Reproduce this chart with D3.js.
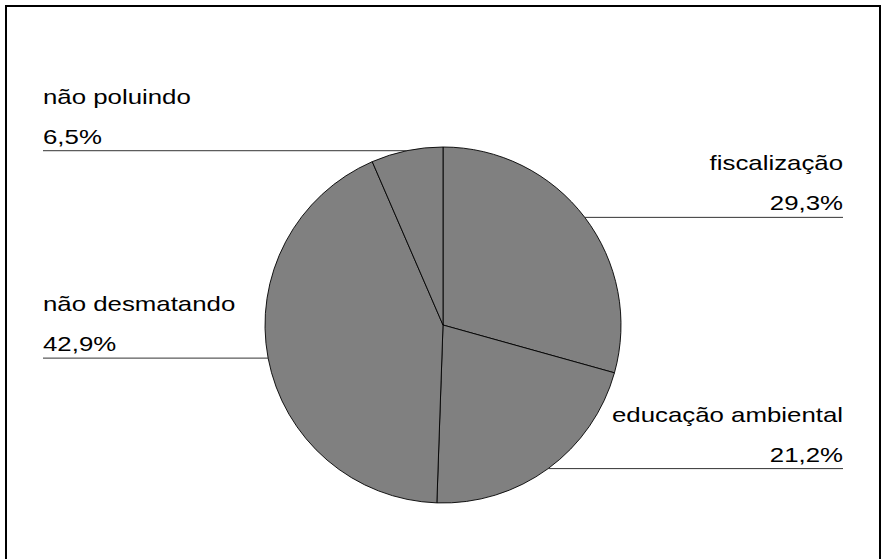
<!DOCTYPE html>
<html>
<head>
<meta charset="utf-8">
<script src="https://cdn.jsdelivr.net/npm/d3@7"></script>
<style>
  html, body { margin: 0; padding: 0; background: #fff; }
  svg { display: block; }
</style>
</head>
<body>
<svg id="chart" width="882" height="559"></svg>
<script>
const categories = ["fiscalização", "educação ambiental", "não desmatando", "não poluindo"];
const values = [29.3, 21.2, 42.9, 6.5];
const valueLabels = ["29,3%", "21,2%", "42,9%", "6,5%"];

const W = 882, H = 559;
const cx = 443, cy = 325, R = 178;
const leftX = 43, rightX = 843;
const fontSize = 20.5, stretch = 1.26;

const svg = d3.select("#chart");

// frame
svg.append("rect")
  .attr("x", 6).attr("y", 6)
  .attr("width", 874).attr("height", 570)
  .attr("fill", "none").attr("stroke", "#000").attr("stroke-width", 2);

const data = categories.map((c, i) => ({ name: c, value: values[i], label: valueLabels[i] }));

const pie = d3.pie().sort(null).value(d => d.value);
const arcs = pie(data);
const arc = d3.arc().innerRadius(0).outerRadius(R);

const g = svg.append("g").attr("transform", `translate(${cx},${cy})`);
g.selectAll("path.slice")
  .data(arcs)
  .enter().append("path")
  .attr("class", "slice")
  .attr("d", arc)
  .attr("fill", "#808080")
  .attr("stroke", "#000")
  .attr("stroke-width", 0.9);

// labels
arcs.forEach(a => {
  const mid = (a.startAngle + a.endAngle) / 2;
  const px = cx + R * Math.sin(mid);
  const py = cy - R * Math.cos(mid);
  const right = Math.sin(mid) > 0;
  const x1 = right ? px : leftX;
  const x2 = right ? rightX : px;
  svg.append("line")
    .attr("x1", x1).attr("x2", x2)
    .attr("y1", py).attr("y2", py)
    .attr("stroke", "#333").attr("stroke-width", 1);
  const tx = right ? rightX : leftX;
  const anchor = right ? "end" : "start";
  const lines = [[a.data.name, py - 47], [a.data.label, py - 7]];
  lines.forEach(([txt, y]) => {
    svg.append("text")
      .attr("transform", `translate(${tx},${y}) scale(${stretch},1)`)
      .attr("text-anchor", anchor)
      .attr("font-family", "Liberation Sans, Arial, sans-serif")
      .attr("font-size", fontSize)
      .attr("fill", "#000")
      .text(txt);
  });
});
</script>
</body>
</html>
